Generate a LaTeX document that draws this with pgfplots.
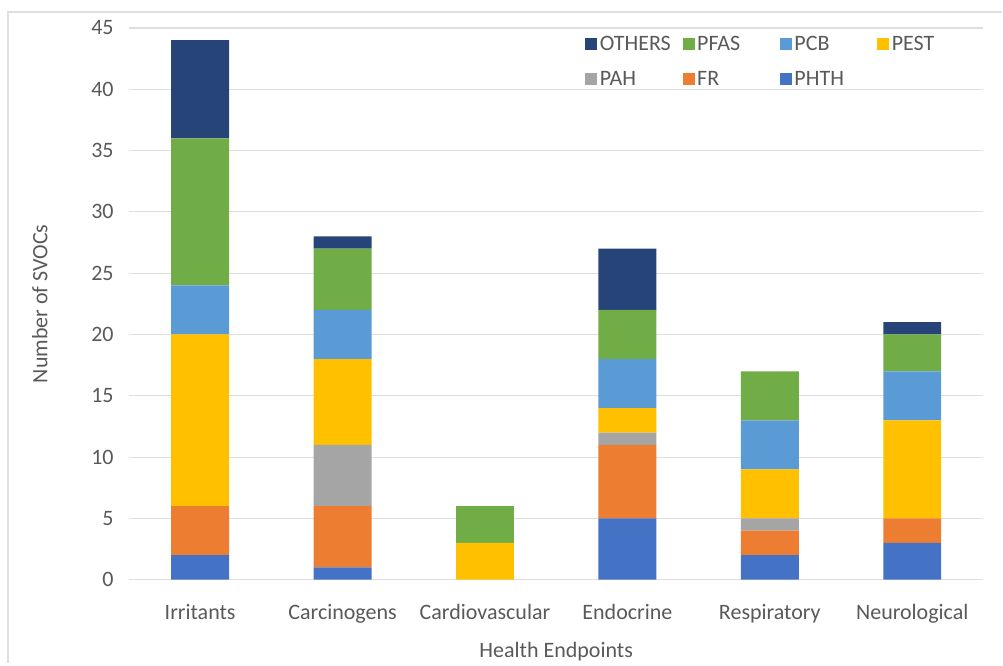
\documentclass[border=0pt]{standalone}
\usepackage{fontspec}
\setmainfont{Carlito}
\usepackage{pgfplots}
\pgfplotsset{compat=1.18}
\definecolor{cPHTH}{HTML}{4472C4}
\definecolor{cFR}{HTML}{ED7D31}
\definecolor{cPAH}{HTML}{A5A5A5}
\definecolor{cPEST}{HTML}{FFC000}
\definecolor{cPCB}{HTML}{5B9BD5}
\definecolor{cPFAS}{HTML}{70AD47}
\definecolor{cOTH}{HTML}{264478}
\definecolor{txt}{HTML}{595959}
\newcommand{\lb}[1]{\makebox[59pt][l]{#1}}
\begin{document}
\begin{tikzpicture}
\begin{axis}[
    at={(0,0)}, anchor=south west,
    scale only axis,
    width=641.25pt, height=414pt,
    ybar stacked,
    bar width=43.5pt,
    xmin=-0.5, xmax=5.5,
    ymin=0, ymax=45,
    ytick={0,5,...,45},
    xtick={0,...,5},
    xticklabels={Irritants,Carcinogens,Cardiovascular,Endocrine,Respiratory,Neurological},
    ymajorgrids,
    grid style={gray!25, line width=0.8pt},
    axis line style={draw=none},
    major tick length=0pt,
    ticklabel style={font=\fontsize{16.5}{18}\selectfont, text=txt},
    xticklabel style={yshift=-15pt},
    yticklabel style={xshift=-8pt},
    /pgf/number format/assume math mode=true,
    xlabel={Health Endpoints},
    ylabel={Number of SVOCs},
    label style={font=\fontsize{16.5}{18}\selectfont, text=txt},
    xlabel style={yshift=-7pt},
    ylabel style={yshift=26pt},
    reverse legend,
    legend columns=4,
    legend style={draw=none, fill=none, at={(0.529,0.995)}, anchor=north west,
        font=\fontsize{16.5}{18}\selectfont, text=txt,
        row sep=10pt,
        /tikz/every even column/.append style={column sep=1pt}},
    legend image code/.code={\fill[#1] (0pt,-4.5pt) rectangle (9pt,4.5pt);},
    every axis plot/.append style={draw=none},
]
\addplot[fill=cPHTH] coordinates {(0,2) (1,1) (2,0) (3,5) (4,2) (5,3)};
\addplot[fill=cFR] coordinates {(0,4) (1,5) (2,0) (3,6) (4,2) (5,2)};
\addplot[fill=cPAH] coordinates {(0,0) (1,5) (2,0) (3,1) (4,1) (5,0)};
\addplot[fill=cPEST] coordinates {(0,14) (1,7) (2,3) (3,2) (4,4) (5,8)};
\addplot[fill=cPCB] coordinates {(0,4) (1,4) (2,0) (3,4) (4,4) (5,4)};
\addplot[fill=cPFAS] coordinates {(0,12) (1,5) (2,3) (3,4) (4,4) (5,3)};
\addplot[fill=cOTH] coordinates {(0,8) (1,1) (2,0) (3,5) (4,0) (5,1)};
\legend{\lb{PHTH},\lb{FR},\lb{PAH},\lb{PEST},\lb{PCB},\lb{PFAS},\lb{OTHERS}}
\end{axis}
\draw[gray!25, line width=0.8pt] (-90.75pt,-62.25pt) -- (-90.75pt,426pt) -- (655.5pt,426pt);
\path[use as bounding box] (-96.75pt,-62.25pt) rectangle (655.5pt,435pt);
\end{tikzpicture}
\end{document}
